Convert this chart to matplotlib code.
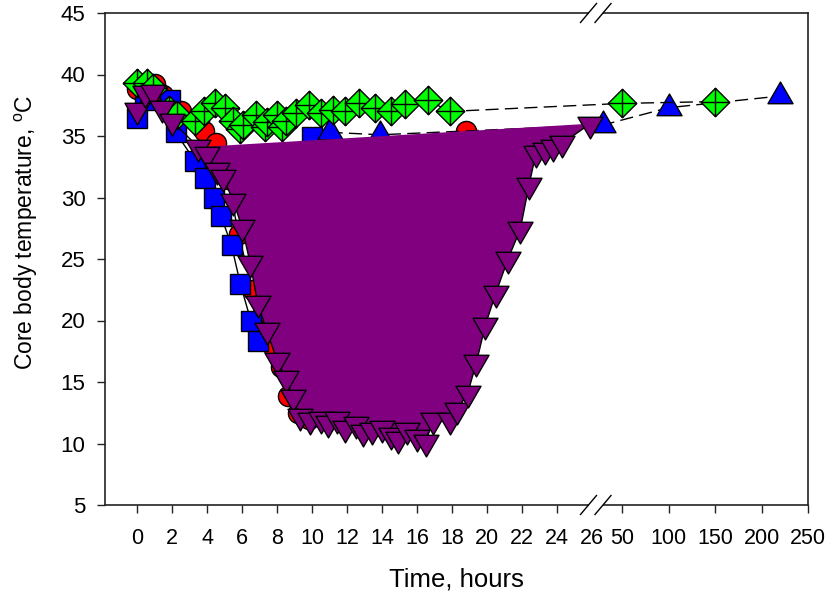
import numpy as np
import matplotlib
matplotlib.use("Agg")
import matplotlib.pyplot as plt
from matplotlib.path import Path
from matplotlib.ticker import NullLocator

plt.rcParams['font.family'] = ['Liberation Sans', 'DejaVu Sans']
plt.rcParams['mathtext.fontset'] = 'custom'
plt.rcParams['mathtext.rm'] = 'Liberation Sans'

# ---------------- data ----------------
# purple (down triangles, filled area)
t_pur = [0, 0.45, 0.9, 1.4, 2.0, 3.5, 4.0, 4.55, 4.9, 5.5, 6.0, 6.46, 6.9, 7.4, 8.0,
         8.5, 8.9, 9.3, 9.9, 10.5, 10.9, 11.4, 11.9, 12.5, 12.9, 13.4, 14.0, 14.5,
         14.9, 15.4, 16.0, 16.5, 16.9, 17.9, 18.3, 18.9, 19.4, 19.9, 20.5, 21.2,
         21.9, 22.4, 22.8, 23.3, 23.8, 24.3, 25.9]
y_pur = [37.1, 38.5, 38.6, 37.3, 36.2, 34.1, 33.5, 32.2, 31.7, 29.7, 27.6, 24.7, 21.4,
         19.2, 16.8, 15.3, 13.8, 12.2, 11.9, 12.0, 11.7, 12.0, 11.3, 11.6, 10.9, 11.1,
         11.3, 10.7, 10.4, 11.1, 10.5, 10.1, 11.9, 11.9, 12.7, 14.1, 16.6, 19.6, 22.2,
         25.0, 27.4, 31.0, 33.6, 33.9, 34.1, 34.4, 36.0]
pur_fill_from = 5

# red circles
t_red = [0, 0.5, 1.0, 1.5, 2.5, 3.8, 4.5, 5.2, 5.8, 6.6, 7.1, 7.7, 8.2, 8.6, 9.2, 9.8, 18.8]
y_red = [38.8, 39.3, 39.2, 38.3, 37.0, 35.4, 34.4, 31.5, 27.0, 22.5, 20.3, 18.0, 16.2,
         13.9, 12.5, 12.0, 35.4]

# blue squares
t_bsq = [0.0, 0.45, 1.9, 2.2, 3.3, 3.9, 4.4, 4.8, 5.4, 5.9, 6.5, 6.9, 10.0]
y_bsq = [36.5, 37.9, 37.9, 35.3, 33.0, 31.6, 30.0, 28.5, 26.1, 23.0, 20.0, 18.3, 34.9]

# blue triangles
t_btr = [11.0, 13.9, 30, 100, 220]
y_btr = [35.3, 35.1, 35.9, 37.3, 38.25]

# green crossed diamonds
t_grn = [0, 0.55, 0.9, 1.8, 2.3, 3.3, 3.8, 4.45, 5.0, 5.5, 5.9, 6.05, 6.8, 7.3, 7.4, 8.0,
         8.3, 8.5, 9.1, 9.8, 10.5, 11.2, 11.9, 12.7, 13.6, 14.5, 15.3, 16.6, 17.9, 50, 150]
y_grn = [39.3, 39.3, 38.9, 37.1, 36.7, 36.2, 37.0, 37.7, 37.3, 36.2, 35.6, 35.9, 36.7,
         35.7, 36.1, 36.7, 35.7, 36.2, 36.9, 37.5, 36.9, 37.1, 37.0, 37.7, 37.3, 37.0,
         37.6, 37.9, 37.0, 37.65, 37.8]

x_ticks = [0, 2, 4, 6, 8, 10, 12, 14, 16, 18, 20, 22, 24, 26, 50, 100, 150, 200, 250]
x_ticklabels = [str(v) for v in x_ticks]
y_ticks = [5, 10, 15, 20, 25, 30, 35, 40, 45]

# ---------------- broken x scale ----------------
B = 26.23           # last value of the left segment
C = 22.04           # value of the right segment at the break
K = 0.93 / 17.5     # compression of the right segment


def fwd(x):
    x = np.asarray(x, dtype=float)
    return np.where(x <= B, x, B + (x - C) * K)


def inv(u):
    u = np.asarray(u, dtype=float)
    return np.where(u <= B, u, np.maximum(C + (u - B) / K, B))


# ---------------- markers ----------------
diamond_cross = Path(
    [(0, 1), (1, 0), (0, -1), (-1, 0), (0, 1), (0, 1), (0, -1), (-1, 0), (1, 0)],
    [Path.MOVETO, Path.LINETO, Path.LINETO, Path.LINETO, Path.CLOSEPOLY,
     Path.MOVETO, Path.LINETO, Path.MOVETO, Path.LINETO])
tri_down = Path([(-1, 0.577), (1, 0.577), (0, -1.155), (-1, 0.577)],
                [Path.MOVETO, Path.LINETO, Path.LINETO, Path.CLOSEPOLY])
tri_up = Path([(-1, -0.577), (1, -0.577), (0, 1.155), (-1, -0.577)],
              [Path.MOVETO, Path.LINETO, Path.LINETO, Path.CLOSEPOLY])

W, H = 830, 601
fig = plt.figure(figsize=(W / 100, H / 100), dpi=100)
L, R, T, Bt = 105, 808, 13, 505
ax = fig.add_axes([L / W, 1 - Bt / H, (R - L) / W, (Bt - T) / H])
ax.set_xscale('function', functions=(fwd, inv))
ax.set_xlim(-1.83, 250)
ax.set_ylim(5, 45)

dash = (0, (9.5, 4.5))
mew = 1.0

ax.plot(t_red, y_red, color='k', lw=1, marker='o', ms=14.5, mfc='#FF0000',
        mec='k', mew=mew, zorder=2, clip_on=False)
ax.plot(t_bsq, y_bsq, color='k', lw=1, marker='s', ms=15, mfc='#0000FF',
        mec='k', mew=mew, zorder=3, clip_on=False)
ax.plot(t_btr, y_btr, color='k', lw=1, ls=dash, marker=tri_up, ms=20.8,
        mfc='#0000FF', mec='k', mew=mew, zorder=4, clip_on=False)
ax.plot(t_grn, y_grn, color='k', lw=1, ls=dash, marker=diamond_cross, ms=20.5,
        mfc='#00FF00', mec='k', mew=mew, zorder=5, clip_on=False)
ax.fill(t_pur[pur_fill_from:], y_pur[pur_fill_from:], color='#800080', lw=0, zorder=6)
ax.plot(t_pur, y_pur, color='k', lw=1, marker=tri_down, ms=20.8, mfc='#800080',
        mec='k', mew=mew, zorder=7, clip_on=False)

# axes styling
for s in ax.spines.values():
    s.set_linewidth(1.2)
    s.set_color('#222222')
ax.set_xticks(x_ticks)
ax.set_xticklabels(x_ticklabels)
ax.xaxis.set_minor_locator(NullLocator())
ax.set_yticks(y_ticks)
ax.tick_params(axis='both', direction='out', length=5.5, width=1, colors='#222222',
               top=False, right=False)
ax.tick_params(axis='x', labelsize=15.5, pad=11, labelcolor='k')
ax.tick_params(axis='y', labelsize=16, pad=8.5, labelcolor='k')
ax.xaxis.get_major_ticks()[x_ticks.index(26)].tick1line.set_visible(False)

ax.set_xlabel('Time, hours', fontsize=18.5)
ax.xaxis.set_label_coords(0.5, -0.127)
ax.set_ylabel('Core body temperature, $^{\\mathregular{o}}$C', fontsize=16.5)
ax.yaxis.set_label_coords(-0.0925, 0.555)

# break marks
aw, ah = R - L, Bt - T
for yb in (0, 1):
    x1, x2 = (588.5 - L) / aw, (603 - L) / aw
    ax.plot([x1, x2], [yb, yb], transform=ax.transAxes, color='white', lw=3,
            clip_on=False, zorder=20, solid_capstyle='butt')
    for xc in (588.5, 603):
        xa = (xc - L) / aw
        dx, dy = 8 / aw, 9.5 / ah
        ax.plot([xa - dx, xa + dx], [yb - dy, yb + dy], transform=ax.transAxes,
                color='k', lw=1, clip_on=False, zorder=21)

fig.savefig('out.png', dpi=100)
